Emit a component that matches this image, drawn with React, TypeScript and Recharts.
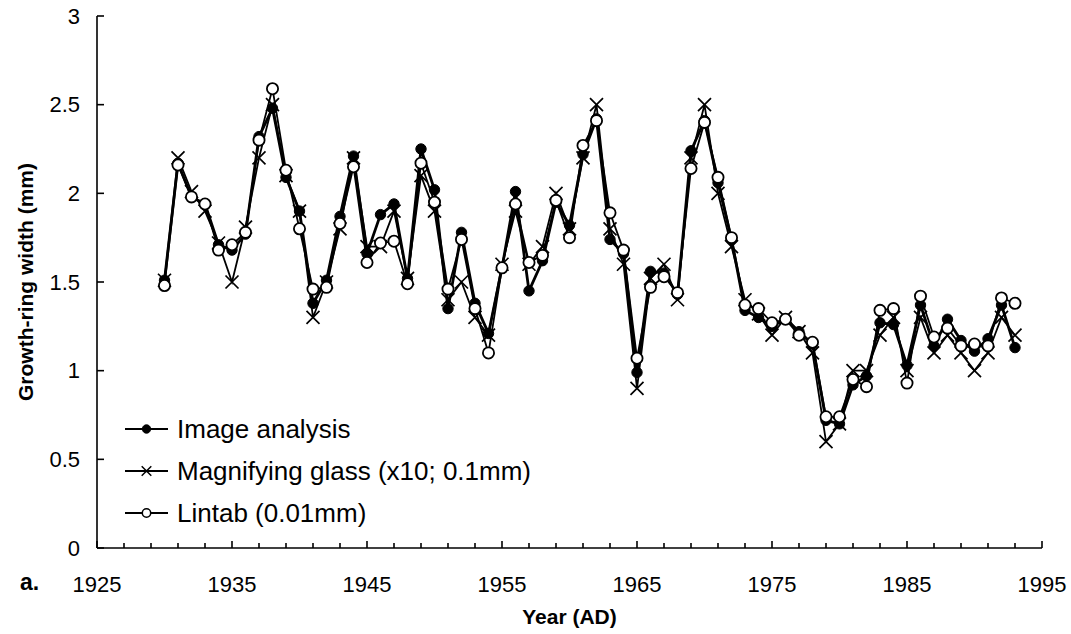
import { LineChart, Line, XAxis, YAxis, Legend } from 'recharts';

const years = [
  1930, 1931, 1932, 1933, 1934, 1935, 1936, 1937, 1938, 1939,
  1940, 1941, 1942, 1943, 1944, 1945, 1946, 1947, 1948, 1949,
  1950, 1951, 1952, 1953, 1954, 1955, 1956, 1957, 1958, 1959,
  1960, 1961, 1962, 1963, 1964, 1965, 1966, 1967, 1968, 1969,
  1970, 1971, 1972, 1973, 1974, 1975, 1976, 1977, 1978, 1979,
  1980, 1981, 1982, 1983, 1984, 1985, 1986, 1987, 1988, 1989,
  1990, 1991, 1992, 1993,
];

const imageAnalysis = [
  1.51, 2.17, 1.98, 1.94, 1.71, 1.68, 1.77, 2.32, 2.48, 2.09,
  1.9, 1.38, 1.51, 1.87, 2.21, 1.66, 1.88, 1.94, 1.52, 2.25,
  2.02, 1.35, 1.78, 1.38, 1.21, 1.58, 2.01, 1.45, 1.62, 1.95,
  1.82, 2.22, 2.42, 1.74, 1.66, 0.99, 1.56, 1.55, 1.43, 2.24,
  2.41, 2.06, 1.74, 1.34, 1.3, 1.25, 1.29, 1.22, 1.15, 0.72,
  0.7, 0.92, 0.97, 1.27, 1.26, 1.03, 1.37, 1.14, 1.29, 1.17,
  1.11, 1.18, 1.37, 1.13,
];

const magnifyingGlass = [
  1.51, 2.2, 2.01, 1.9, 1.72, 1.5, 1.81, 2.2, 2.5, 2.1,
  1.9, 1.3, 1.5, 1.8, 2.2, 1.7, 1.7, 1.9, 1.52, 2.1,
  1.9, 1.4, 1.5, 1.3, 1.2, 1.6, 1.9, 1.6, 1.7, 2.0,
  1.8, 2.2, 2.5, 1.8, 1.6, 0.9, 1.52, 1.6, 1.4, 2.2,
  2.5, 2.0, 1.7, 1.4, 1.32, 1.2, 1.3, 1.22, 1.1, 0.6,
  0.7, 1.0, 1.0, 1.2, 1.3, 1.0, 1.3, 1.1, 1.2, 1.1,
  1.0, 1.1, 1.3, 1.2,
];

const lintab = [
  1.48, 2.16, 1.98, 1.94, 1.68, 1.71, 1.78, 2.3, 2.59, 2.13,
  1.8, 1.46, 1.47, 1.83, 2.15, 1.61, 1.72, 1.73, 1.49, 2.17,
  1.95, 1.46, 1.74, 1.35, 1.1, 1.58, 1.94, 1.61, 1.65, 1.96,
  1.75, 2.27, 2.41, 1.89, 1.68, 1.07, 1.47, 1.53, 1.44, 2.14,
  2.4, 2.09, 1.75, 1.37, 1.35, 1.27, 1.29, 1.2, 1.16, 0.74,
  0.74, 0.95, 0.91, 1.34, 1.35, 0.93, 1.42, 1.19, 1.24, 1.14,
  1.15, 1.14, 1.41, 1.38,
];

const xTicks = [
  1925, 1927, 1929, 1931, 1933, 1935, 1937, 1939, 1941, 1943,
  1945, 1947, 1949, 1951, 1953, 1955, 1957, 1959, 1961, 1963,
  1965, 1967, 1969, 1971, 1973, 1975, 1977, 1979, 1981, 1983,
  1985, 1987, 1989, 1991, 1993, 1995,
];
const xLabelTicks = [1925, 1935, 1945, 1955, 1965, 1975, 1985, 1995];
const yTicks = [0, 0.5, 1, 1.5, 2, 2.5, 3];

const rows = years.map((year, i) => ({
  year,
  image: imageAnalysis[i],
  glass: magnifyingGlass[i],
  lintab: lintab[i],
}));

const FONT = '"Liberation Sans", Arial, sans-serif';

function FilledDot({ cx, cy, r = 5.2 }: any) {
  if (cx == null || cy == null) return null;
  return <circle cx={cx} cy={cy} r={r} fill="#000" stroke="#000" strokeWidth={1} />;
}

function OpenDot({ cx, cy, r = 5.6, sw = 1.8 }: any) {
  if (cx == null || cy == null) return null;
  return <circle cx={cx} cy={cy} r={r} fill="#fff" stroke="#000" strokeWidth={sw} />;
}

function CrossDot({ cx, cy, s = 6.5, sw = 1.7 }: any) {
  if (cx == null || cy == null) return null;
  return (
    <path
      d={`M${cx - s},${cy - s}L${cx + s},${cy + s}M${cx + s},${cy - s}L${cx - s},${cy + s}`}
      stroke="#000"
      strokeWidth={sw}
      fill="none"
    />
  );
}

function XTick({ x, y, payload }: any) {
  const major = xLabelTicks.includes(payload.value);
  return (
    <g>
      <line x1={x} y1={y} x2={x} y2={y - (major ? 7 : 5)} stroke="#000" strokeWidth={1.6} />
      {major && (
        <text x={x} y={y + 44} textAnchor="middle" fontSize={22} fontFamily={FONT} fill="#000">
          {payload.value}
        </text>
      )}
    </g>
  );
}

function YTick({ x, y, payload }: any) {
  return (
    <g>
      <line x1={x} y1={y} x2={x + 7} y2={y} stroke="#000" strokeWidth={1.6} />
      <text x={x - 17} y={y} dy="0.35em" textAnchor="end" fontSize={22} fontFamily={FONT} fill="#000">
        {payload.value}
      </text>
    </g>
  );
}

const legendItems = [
  { name: 'Image analysis', marker: 'filled' },
  { name: 'Magnifying glass (x10; 0.1mm)', marker: 'cross' },
  { name: 'Lintab (0.01mm)', marker: 'open' },
];

function LegendBox() {
  return (
    <div style={{ fontFamily: FONT, fontSize: 26, color: '#000' }}>
      {legendItems.map((item) => (
        <div key={item.name} style={{ display: 'flex', alignItems: 'center', height: 42 }}>
          <svg width={52} height={24} style={{ display: 'block' }}>
            <line x1={0} y1={12} x2={43} y2={12} stroke="#000" strokeWidth={2} />
            {item.marker === 'filled' && <FilledDot cx={21.5} cy={12} r={4.2} />}
            {item.marker === 'open' && <OpenDot cx={21.5} cy={12} r={4.2} sw={1.5} />}
            {item.marker === 'cross' && <CrossDot cx={21.5} cy={12} s={4.8} sw={1.5} />}
          </svg>
          <span style={{ whiteSpace: 'nowrap' }}>{item.name}</span>
        </div>
      ))}
    </div>
  );
}

export default function App() {
  return (
    <div style={{ position: 'relative', width: 1071, height: 634, background: '#fff' }}>
      <style>{'body{margin:0;background:#fff}'}</style>
      <LineChart width={1071} height={634} data={rows} margin={{ top: 16, right: 29, bottom: 0, left: 0 }}>
        <XAxis
          dataKey="year"
          type="number"
          domain={[1925, 1995]}
          ticks={xTicks}
          interval={0}
          height={86}
          tickSize={0}
          tickMargin={0}
          tick={<XTick />}
          tickLine={false}
          axisLine={{ stroke: '#000', strokeWidth: 1.6 }}
          label={(props: any) => {
            const vb = props.viewBox;
            return (
              <text
                x={vb.x + vb.width / 2}
                y={624}
                textAnchor="middle"
                fontSize={21}
                fontWeight="bold"
                fontFamily={FONT}
                fill="#000"
              >
                Year (AD)
              </text>
            );
          }}
        />
        <YAxis
          type="number"
          domain={[0, 3]}
          ticks={yTicks}
          interval={0}
          width={97}
          tickSize={0}
          tickMargin={0}
          tick={<YTick />}
          tickLine={false}
          axisLine={{ stroke: '#000', strokeWidth: 1.6 }}
          label={(props: any) => {
            const vb = props.viewBox;
            const cy = vb.y + vb.height / 2;
            return (
              <text
                x={33}
                y={cy}
                transform={`rotate(-90, 33, ${cy})`}
                textAnchor="middle"
                fontSize={21}
                fontWeight="bold"
                fontFamily={FONT}
                fill="#000"
              >
                Growth-ring width (mm)
              </text>
            );
          }}
        />
        <Legend
          layout="vertical"
          align="center"
          verticalAlign="middle"
          wrapperStyle={{ left: 125, top: 408, width: 'auto' }}
          content={() => <LegendBox />}
        />
        <Line
          dataKey="image"
          name="Image analysis"
          stroke="#000"
          strokeWidth={2.8}
          dot={(p: any) => <FilledDot key={`f-${p.index}`} cx={p.cx} cy={p.cy} />}
          activeDot={false}
          isAnimationActive={false}
        />
        <Line
          dataKey="glass"
          name="Magnifying glass (x10; 0.1mm)"
          stroke="#000"
          strokeWidth={1.8}
          dot={(p: any) => <CrossDot key={`c-${p.index}`} cx={p.cx} cy={p.cy} />}
          activeDot={false}
          isAnimationActive={false}
        />
        <Line
          dataKey="lintab"
          name="Lintab (0.01mm)"
          stroke="#000"
          strokeWidth={1.8}
          dot={(p: any) => <OpenDot key={`o-${p.index}`} cx={p.cx} cy={p.cy} />}
          activeDot={false}
          isAnimationActive={false}
        />
      </LineChart>
      <div
        style={{
          position: 'absolute',
          left: 20,
          top: 569,
          fontFamily: FONT,
          fontSize: 23,
          fontWeight: 'bold',
          color: '#000',
        }}
      >
        a.
      </div>
    </div>
  );
}
